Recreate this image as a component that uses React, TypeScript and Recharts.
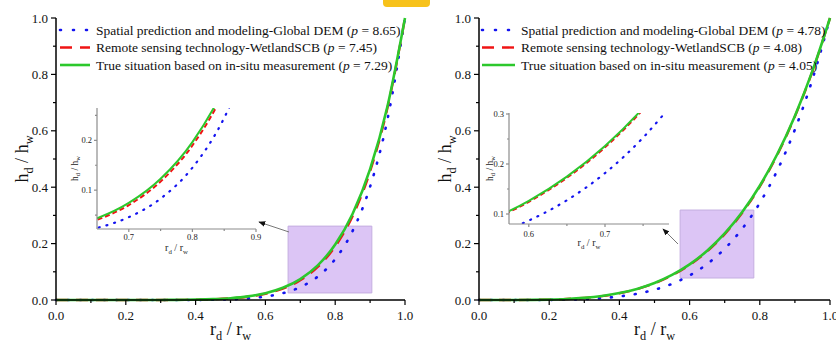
import React from "react";
import { LineChart, Line, XAxis, YAxis, ReferenceArea, Legend, Label } from "recharts";

const FONT = "Liberation Serif, DejaVu Serif, Times New Roman, serif";

// r_d / r_w sample positions
const rdRw = [0, 0.05, 0.1, 0.15, 0.2, 0.25, 0.3, 0.35, 0.4, 0.45, 0.5, 0.55, 0.6, 0.65, 0.7, 0.75, 0.8, 0.85, 0.9, 0.95, 1];

// left panel h_d / h_w
const leftDem = [0, 0, 0, 0, 0, 0.00001, 0.00003, 0.0001, 0.0004, 0.001, 0.0025, 0.0057, 0.0121, 0.0241, 0.0457, 0.083, 0.1451, 0.2452, 0.402, 0.6417, 1];
const leftScb = [0, 0, 0, 0, 0, 0.00003, 0.00013, 0.0004, 0.0011, 0.0026, 0.0057, 0.0116, 0.0222, 0.0404, 0.0701, 0.1173, 0.1897, 0.298, 0.4561, 0.6824, 1];
const leftInSitu = [0, 0, 0, 0, 0, 0.00004, 0.00015, 0.0005, 0.0013, 0.003, 0.0064, 0.0128, 0.0241, 0.0433, 0.0743, 0.1228, 0.1966, 0.3058, 0.4639, 0.688, 1];

// right panel h_d / h_w
const rightDem = [0, 0, 0.00002, 0.0001, 0.0005, 0.0013, 0.0032, 0.0066, 0.0125, 0.022, 0.0364, 0.0574, 0.087, 0.1276, 0.1818, 0.2528, 0.3442, 0.4599, 0.6043, 0.7826, 1];
const rightScb = [0, 0, 0.0001, 0.0004, 0.0014, 0.0035, 0.0074, 0.0138, 0.0238, 0.0385, 0.0591, 0.0872, 0.1244, 0.1725, 0.2333, 0.3092, 0.4024, 0.5153, 0.6506, 0.8112, 1];
const rightInSitu = [0, 0, 0.0001, 0.0005, 0.0015, 0.0036, 0.0076, 0.0142, 0.0245, 0.0394, 0.0604, 0.0888, 0.1263, 0.1747, 0.2359, 0.3119, 0.4051, 0.5178, 0.6527, 0.8124, 1];

const seriesNames = [
  "Spatial prediction and modeling-Global DEM",
  "Remote sensing technology-WetlandSCB",
  "True situation based on in-situ measurement",
];
const leftP = ["8.65", "7.45", "7.29"];
const rightP = ["4.78", "4.08", "4.05"];

const mainTicks = [0, 0.1, 0.2, 0.3, 0.4, 0.5, 0.6, 0.7, 0.8, 0.9, 1];
const mainLabelled = [0, 0.2, 0.4, 0.6, 0.8, 1];

const leftInsetXTicks = [0.7, 0.75, 0.8, 0.85, 0.9];
const leftInsetXLabelled = [0.7, 0.8, 0.9];
const leftInsetYTicks = [0.05, 0.1, 0.15, 0.2, 0.25];
const leftInsetYLabelled = [0.1, 0.2];

const rightInsetXTicks = [0.6, 0.65, 0.7, 0.75];
const rightInsetXLabelled = [0.6, 0.7];
const rightInsetYTicks = [0.1, 0.15, 0.2, 0.25, 0.3];
const rightInsetYLabelled = [0.1, 0.2, 0.3];

const seriesStyle = [
  { key: "dem", color: "#1414f0", dash: "1 11", insetDash: "1 7", width: 2.6 },
  { key: "scb", color: "#f01414", dash: "12 8", insetDash: "5 3", width: 2.4 },
  { key: "situ", color: "#2cc82c", dash: undefined, insetDash: undefined, width: 2.6 },
];

const isLabelled = (v: number, list: number[]) => list.some((t) => Math.abs(t - v) < 1e-6);

function makeTick(
  side: "x" | "y",
  labelled: number[],
  o: { major: number; minor: number; font: number; gap: number; color: string; text: string }
) {
  return (props: any) => {
    const { x, y, payload } = props;
    const big = isLabelled(payload.value, labelled);
    const len = big ? o.major : o.minor;
    if (side === "x") {
      return (
        <g>
          <line x1={x} x2={x} y1={y} y2={y + len} stroke={o.color} strokeWidth={1.2} />
          {big && (
            <text x={x} y={y + o.gap} textAnchor="middle" style={{ fontFamily: FONT, fontSize: o.font }} fill={o.text}>
              {payload.value.toFixed(1)}
            </text>
          )}
        </g>
      );
    }
    return (
      <g>
        <line x1={x - len} x2={x} y1={y} y2={y} stroke={o.color} strokeWidth={1.2} />
        {big && (
          <text x={x - o.gap} y={y + o.font * 0.35} textAnchor="end" style={{ fontFamily: FONT, fontSize: o.font }} fill={o.text}>
            {payload.value.toFixed(1)}
          </text>
        )}
      </g>
    );
  };
}

function xTitle(size: number, below: number, color: string) {
  return (props: any) => {
    const { x, y, width } = props.viewBox;
    return (
      <text x={x + width / 2} y={y + below} textAnchor="middle" style={{ fontFamily: FONT, fontSize: size }} fill={color}>
        r<tspan dy={size * 0.25} style={{ fontSize: size * 0.68 }}>d</tspan>
        <tspan dy={-size * 0.25}> / r</tspan>
        <tspan dy={size * 0.25} style={{ fontSize: size * 0.68 }}>w</tspan>
      </text>
    );
  };
}

function yTitle(size: number, away: number, color: string) {
  return (props: any) => {
    const { x, y, width, height } = props.viewBox;
    const cx = x + width - away;
    const cy = y + height / 2;
    return (
      <text
        x={cx}
        y={cy}
        transform={`rotate(-90 ${cx} ${cy})`}
        textAnchor="middle"
        style={{ fontFamily: FONT, fontSize: size }}
        fill={color}
      >
        h<tspan dy={size * 0.25} style={{ fontSize: size * 0.68 }}>d</tspan>
        <tspan dy={-size * 0.25}> / h</tspan>
        <tspan dy={size * 0.25} style={{ fontSize: size * 0.68 }}>w</tspan>
      </text>
    );
  };
}

function LegendBox({ pvals, lineLen }: { pvals: string[]; lineLen: number }) {
  return (
    <svg width={360} height={56} style={{ display: "block" }}>
      {seriesNames.map((name, i) => {
        const cy = 9 + i * 17.5;
        const s = seriesStyle[i];
        return (
          <g key={name}>
            <line
              x1={3}
              x2={3 + lineLen}
              y1={cy}
              y2={cy}
              stroke={s.color}
              strokeWidth={s.width}
              strokeDasharray={i === 0 ? "1 12" : s.dash}
              strokeLinecap={i === 0 ? "round" : "butt"}
            />
            <text x={lineLen + 9} y={cy + 4.6} style={{ fontFamily: FONT, fontSize: 13.5 }} fill="#111">
              {name} (<tspan style={{ fontStyle: "italic" }}>p</tspan> = {pvals[i]})
            </text>
          </g>
        );
      })}
    </svg>
  );
}

type InsetSpec = {
  left: number;
  top: number;
  width: number;
  height: number;
  yAxisWidth: number;
  marginTop: number;
  marginRight: number;
  xDomain: [number, number];
  yDomain: [number, number];
  xTicks: number[];
  xLabelled: number[];
  yTicks: number[];
  yLabelled: number[];
  xGap: number;
  yTitleAway: number;
};

type PanelSpec = {
  offsetX: number;
  width: number;
  yAxisWidth: number;
  marginRight: number;
  values: number[][];
  pvals: string[];
  zoom: { x1: number; x2: number; y1: number; y2: number };
  inset: InsetSpec;
  legendLeft: number;
  legendLine: number;
};

function Inset({ spec, rows }: { spec: InsetSpec; rows: any[] }) {
  const grey = "#8c8c8c";
  const tickStyle = { major: 3, minor: 2, font: 8.5, gap: 0, color: grey, text: "#222" };
  return (
    <div style={{ position: "absolute", left: spec.left, top: spec.top }}>
      <LineChart
        width={spec.width}
        height={spec.height}
        data={rows}
        margin={{ top: spec.marginTop, right: spec.marginRight, bottom: 0, left: 0 }}
      >
        <XAxis
          dataKey="x"
          type="number"
          domain={spec.xDomain}
          allowDataOverflow
          ticks={spec.xTicks}
          interval={0}
          tickSize={0}
          tickMargin={0}
          tick={makeTick("x", spec.xLabelled, { ...tickStyle, gap: spec.xGap })}
          axisLine={{ stroke: grey, strokeWidth: 1.2 }}
          height={31}
        >
          <Label content={xTitle(10, 22, "#222")} />
        </XAxis>
        <YAxis
          type="number"
          domain={spec.yDomain}
          allowDataOverflow
          ticks={spec.yTicks}
          interval={0}
          tickSize={0}
          tickMargin={0}
          tick={makeTick("y", spec.yLabelled, { ...tickStyle, gap: 5 })}
          axisLine={{ stroke: grey, strokeWidth: 1.2 }}
          width={spec.yAxisWidth}
        >
          <Label content={yTitle(9.5, spec.yTitleAway, "#222")} />
        </YAxis>
        {seriesStyle.map((s) => (
          <Line
            key={s.key}
            dataKey={s.key}
            type="monotone"
            stroke={s.color}
            strokeWidth={s.key === "dem" ? 2.2 : 2}
            strokeDasharray={s.insetDash}
            strokeLinecap={s.key === "dem" ? "round" : "butt"}
            dot={false}
            isAnimationActive={false}
          />
        ))}
        <ReferenceArea fill="none" stroke={grey} strokeWidth={1.2} ifOverflow="visible" />
      </LineChart>
    </div>
  );
}

function Panel({ spec }: { spec: PanelSpec }) {
  const rows = rdRw.map((x, i) => ({
    x,
    dem: spec.values[0][i],
    scb: spec.values[1][i],
    situ: spec.values[2][i],
  }));
  const tickStyle = { major: 5, minor: 3, font: 13, gap: 19.5, color: "#000", text: "#111" };
  return (
    <>
      <div style={{ position: "absolute", left: spec.offsetX, top: 0 }}>
        <LineChart
          width={spec.width}
          height={343}
          data={rows}
          margin={{ top: 18, right: spec.marginRight, bottom: 0, left: 0 }}
        >
          <XAxis
            dataKey="x"
            type="number"
            domain={[0, 1]}
            ticks={mainTicks}
            interval={0}
            tickSize={0}
            tickMargin={0}
            tick={makeTick("x", mainLabelled, tickStyle)}
            axisLine={{ stroke: "#000", strokeWidth: 1.5 }}
            height={43}
          >
            <Label content={xTitle(18, 35, "#111")} />
          </XAxis>
          <YAxis
            type="number"
            domain={[0, 1]}
            ticks={mainTicks}
            interval={0}
            tickSize={0}
            tickMargin={0}
            tick={makeTick("y", mainLabelled, { ...tickStyle, gap: 8 })}
            axisLine={{ stroke: "#000", strokeWidth: 1.5 }}
            width={spec.yAxisWidth}
          >
            <Label content={yTitle(18, 28, "#111")} />
          </YAxis>
          <ReferenceArea
            x1={spec.zoom.x1}
            x2={spec.zoom.x2}
            y1={spec.zoom.y1}
            y2={spec.zoom.y2}
            fill="#dcc5f5"
            fillOpacity={1}
            stroke="#c4aee0"
          />
          {seriesStyle.map((s) => (
            <Line
              key={s.key}
              dataKey={s.key}
              type="monotone"
              stroke={s.color}
              strokeWidth={s.width}
              strokeDasharray={s.dash}
              strokeLinecap={s.key === "dem" ? "round" : "butt"}
              dot={false}
              isAnimationActive={false}
            />
          ))}
          <ReferenceArea fill="none" stroke="#000" strokeWidth={1.5} ifOverflow="visible" />
          <Legend
            layout="horizontal"
            align="center"
            verticalAlign="middle"
            wrapperStyle={{ left: spec.legendLeft, top: 21, width: 360, height: 56 }}
            content={() => <LegendBox pvals={spec.pvals} lineLen={spec.legendLine} />}
          />
        </LineChart>
      </div>
      <Inset spec={spec.inset} rows={rows} />
    </>
  );
}

const leftPanel: PanelSpec = {
  offsetX: 0,
  width: 420,
  yAxisWidth: 56,
  marginRight: 15,
  values: [leftDem, leftScb, leftInSitu],
  pvals: leftP,
  zoom: { x1: 0.665, x2: 0.905, y1: 0.025, y2: 0.262 },
  inset: {
    left: 60,
    top: 100,
    width: 210,
    height: 160,
    yAxisWidth: 37,
    marginTop: 8,
    marginRight: 14,
    xDomain: [0.65, 0.9],
    yDomain: [0.022, 0.265],
    xTicks: leftInsetXTicks,
    xLabelled: leftInsetXLabelled,
    yTicks: leftInsetYTicks,
    yLabelled: leftInsetYLabelled,
    xGap: 11,
    yTitleAway: 19,
  },
  legendLeft: 57,
  legendLine: 30,
};

const rightPanel: PanelSpec = {
  offsetX: 420,
  width: 416,
  yAxisWidth: 59,
  marginRight: 6,
  values: [rightDem, rightScb, rightInSitu],
  pvals: rightP,
  zoom: { x1: 0.573, x2: 0.783, y1: 0.078, y2: 0.319 },
  inset: {
    left: 470,
    top: 100,
    width: 210,
    height: 155,
    yAxisWidth: 39,
    marginTop: 13,
    marginRight: 11,
    xDomain: [0.574, 0.784],
    yDomain: [0.08, 0.302],
    xTicks: rightInsetXTicks,
    xLabelled: rightInsetXLabelled,
    yTicks: rightInsetYTicks,
    yLabelled: rightInsetYLabelled,
    xGap: 13,
    yTitleAway: 16,
  },
  legendLeft: 59,
  legendLine: 33,
};

export default function App() {
  return (
    <div
      style={{
        position: "absolute",
        left: 0,
        top: 0,
        width: 836,
        height: 343,
        background: "#fff",
        overflow: "hidden",
      }}
    >
      <Panel spec={leftPanel} />
      <Panel spec={rightPanel} />
      <svg width={836} height={343} style={{ position: "absolute", left: 0, top: 0, pointerEvents: "none" }}>
        <defs>
          <marker id="head" viewBox="0 0 10 10" refX="9" refY="5" markerWidth="7" markerHeight="7" orient="auto">
            <path d="M0,1 L10,5 L0,9 z" fill="#111" />
          </marker>
        </defs>
        <line x1={289} y1={232} x2={259} y2={222} stroke="#777" strokeWidth={1} markerEnd="url(#head)" />
        <line x1={678} y1={244} x2={663} y2={229} stroke="#777" strokeWidth={1} markerEnd="url(#head)" />
      </svg>
      <div
        style={{
          position: "absolute",
          left: 383,
          top: 0,
          width: 47,
          height: 7,
          background: "#f7c21b",
          borderRadius: "0 0 4px 4px",
        }}
      />
    </div>
  );
}
